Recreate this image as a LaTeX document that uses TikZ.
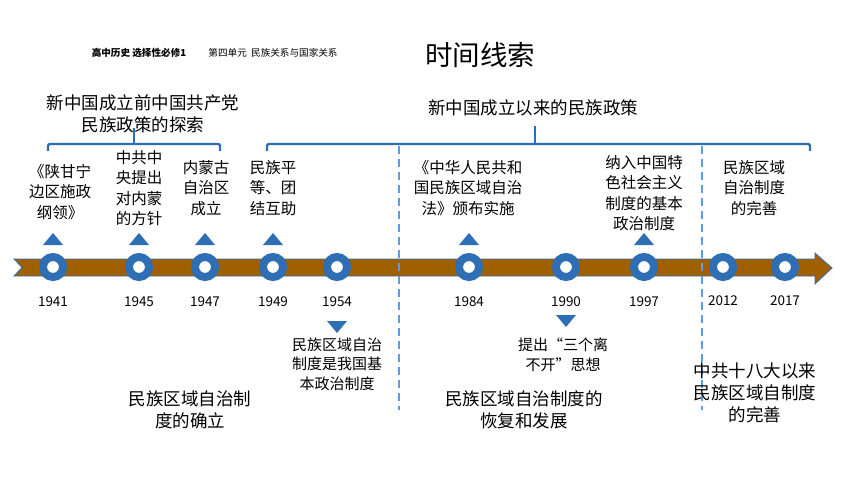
\documentclass[tikz,border=0pt]{standalone}
\usepackage{fontspec}
\setmainfont{Noto Sans CJK SC}
\usetikzlibrary{calc}

\definecolor{lineblue}{RGB}{46,110,181}
\definecolor{dashblue}{RGB}{95,155,225}
\definecolor{bandbrown}{RGB}{160,96,0}

\begin{document}
\begin{tikzpicture}[x=1pt, y=-1pt,
    dot/.style={circle, draw=lineblue, line width=8pt, fill=white, minimum size=20pt, inner sep=0pt},
    tri/.style={fill=lineblue},
    brk/.style={draw=lineblue, line width=2.4pt, rounded corners=2pt},
    sep/.style={draw=dashblue, line width=2pt, dash pattern=on 8pt off 5pt},
    yr/.style={font=\fontsize{13.5}{15}\selectfont},
    evt/.style={align=center, font=\fontsize{15.5}{20.5}\selectfont},
    note/.style={align=center, font=\fontsize{15}{19.5}\selectfont},
    stage/.style={align=center, font=\fontsize{17.5}{22}\selectfont}]
    \useasboundingbox (0,0) rectangle (860,484);

    % Header and title
    \node[font=\bfseries\fontsize{9.6}{11}\selectfont] (course) at (139,53) {高中历史 选择性必修1};
    \node[font=\fontsize{9.6}{11}\selectfont] (unit) at (273,53) {第四单元\ \ 民族关系与国家关系};
    \node[font=\fontsize{27.5}{30}\selectfont] (title) at (480,55) {时间线索};

    % Period headings with brackets
    \node[stage] (prehead) at (143,114) {新中国成立前中国共产党\\民族政策的探索};
    \node[stage] (posthead) at (533,108) {新中国成立以来的民族政策};
    \coordinate (pretick) at (134,144);
    \coordinate (posttick) at (535,144);
    \draw[brk] (48,151) -- (48,144) -- (220,144) -- (220,151);
    \draw[brk] (pretick) -- (pretick |- 0,128);
    \draw[brk] (267,151) -- (267,144) -- (810,144) -- (810,151);
    \draw[brk] (posttick) -- (posttick |- 0,126);

    % The time band
    \draw[lineblue, line width=0.8pt, fill=bandbrown]
        (14,259) -- (815,259) -- (815,253) -- (832,268) -- (815,284)
        -- (815,276) -- (14,276) -- (22,267.5) -- cycle;

    % Dividing lines
    \draw[sep] (399,146) -- (399,410);
    \draw[sep] (702,146) -- (702,410);

    % Points on the band
    \node[dot] (d1941) at (53,267) {};
    \node[dot] (d1945) at (139,267) {};
    \node[dot] (d1947) at (205,267) {};
    \node[dot] (d1949) at (273,267) {};
    \node[dot] (d1954) at (337,267) {};
    \node[dot] (d1984) at (469,267) {};
    \node[dot] (d1990) at (566,267) {};
    \node[dot] (d1997) at (644,267) {};
    \node[dot] (d2012) at (723,267) {};
    \node[dot] (d2017) at (785,267) {};

    % Years
    \node[yr] (y1941) at (53,302) {1941};
    \node[yr] (y1945) at (139,302) {1945};
    \node[yr] (y1947) at (205,302) {1947};
    \node[yr] (y1949) at (273,302) {1949};
    \node[yr] (y1954) at (337,302) {1954};
    \node[yr] (y1984) at (469,302) {1984};
    \node[yr] (y1990) at (566,302) {1990};
    \node[yr] (y1997) at (644,302) {1997};
    \node[yr] (y2012) at (723,301) {2012};
    \node[yr] (y2017) at (785,301) {2017};

    % Markers
    \fill[tri] ($(d1941)+(0,-34)$) -- ++(10,12) -- ++(-20,0) -- cycle;
    \fill[tri] ($(d1945)+(0,-34)$) -- ++(10,12) -- ++(-20,0) -- cycle;
    \fill[tri] ($(d1947)+(0,-34)$) -- ++(10,12) -- ++(-20,0) -- cycle;
    \fill[tri] ($(d1949)+(0,-34)$) -- ++(10,12) -- ++(-20,0) -- cycle;
    \fill[tri] ($(d1984)+(0,-34)$) -- ++(10,12) -- ++(-20,0) -- cycle;
    \fill[tri] ($(d1997)+(0,-34)$) -- ++(10,12) -- ++(-20,0) -- cycle;
    \fill[tri] ($(d1954)+(-10,54)$) -- ++(20,0) -- ++(-10,12) -- cycle;
    \fill[tri] ($(d1990)+(-10,48)$) -- ++(20,0) -- ++(-10,12) -- cycle;

    % Events above the band
    \node[evt] (e1941) at (60,192) {《陕甘宁\\边区施政\\纲领》};
    \node[evt] (e1945) at (139,188) {中共中\\央提出\\对内蒙\\的方针};
    \node[evt] (e1947) at (206,188) {内蒙古\\自治区\\成立};
    \node[evt] (e1949) at (273,188) {民族平\\等、团\\结互助};
    \node[evt] (e1984) at (468,188) {《中华人民共和\\国民族区域自治\\法》颁布实施};
    \node[evt] (e1997) at (644,193) {纳入中国特\\色社会主义\\制度的基本\\政治制度};
    \node[evt] (e2012) at (754,188) {民族区域\\自治制度\\的完善};

    % Events below the band
    \node[note] (e1954) at (337,364) {民族区域自治\\制度是我国基\\本政治制度};
    \node[note] (e1990) at (563,355) {提出“三个离\\不开”思想};

    % Stages
    \node[stage] (stage1) at (190,410) {民族区域自治制\\度的确立};
    \node[stage] (stage2) at (524,410) {民族区域自治制度的\\恢复和发展};
    \node[stage] (stage3) at (755,393) {中共十八大以来\\民族区域自制度\\的完善};
\end{tikzpicture}
\end{document}
